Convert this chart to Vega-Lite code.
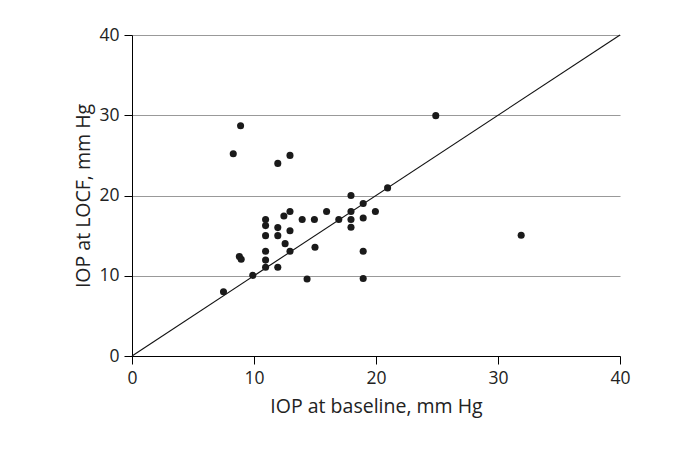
{
  "$schema": "https://vega.github.io/schema/vega-lite/v6.json",
  "width": 488,
  "height": 321,
  "autosize": {"type": "none"},
  "padding": {"left": 132, "top": 35, "right": 72, "bottom": 95},
  "background": "white",
  "config": {
    "view": {"stroke": null},
    "font": "Open Sans",
    "axis": {
      "labelFont": "Open Sans",
      "titleFont": "Open Sans",
      "labelFontSize": 17.5,
      "titleFontSize": 19.5,
      "titleFontWeight": "normal",
      "labelColor": "#222",
      "titleColor": "#222",
      "domainColor": "#000",
      "tickColor": "#000",
      "tickSize": 8,
      "labelPadding": 5,
      "labelFlush": false
    }
  },
  "datasets": {
    "pts": [
      {"baseline": 7.5, "locf": 8.0},
      {"baseline": 8.3, "locf": 25.2},
      {"baseline": 8.9, "locf": 28.7},
      {"baseline": 8.8, "locf": 12.4},
      {"baseline": 8.95, "locf": 12.05},
      {"baseline": 9.9, "locf": 10.05},
      {"baseline": 11.95, "locf": 24.0},
      {"baseline": 12.95, "locf": 25.0},
      {"baseline": 12.95, "locf": 18.0},
      {"baseline": 12.45, "locf": 17.45},
      {"baseline": 10.95, "locf": 17.0},
      {"baseline": 10.95, "locf": 16.25},
      {"baseline": 13.95, "locf": 17.0},
      {"baseline": 14.95, "locf": 17.0},
      {"baseline": 15.95, "locf": 18.0},
      {"baseline": 16.95, "locf": 17.0},
      {"baseline": 11.95, "locf": 16.0},
      {"baseline": 10.95, "locf": 15.0},
      {"baseline": 11.95, "locf": 15.0},
      {"baseline": 12.95, "locf": 15.6},
      {"baseline": 12.55, "locf": 14.0},
      {"baseline": 15.0, "locf": 13.55},
      {"baseline": 10.95, "locf": 13.05},
      {"baseline": 12.95, "locf": 13.05},
      {"baseline": 10.95, "locf": 11.95},
      {"baseline": 10.95, "locf": 11.05},
      {"baseline": 11.95, "locf": 11.05},
      {"baseline": 14.35, "locf": 9.6},
      {"baseline": 20.95, "locf": 20.95},
      {"baseline": 17.95, "locf": 20.0},
      {"baseline": 18.95, "locf": 19.0},
      {"baseline": 17.95, "locf": 18.0},
      {"baseline": 19.95, "locf": 18.0},
      {"baseline": 17.95, "locf": 17.0},
      {"baseline": 18.95, "locf": 17.2},
      {"baseline": 17.95, "locf": 16.05},
      {"baseline": 18.95, "locf": 13.05},
      {"baseline": 18.95, "locf": 9.65},
      {"baseline": 24.9, "locf": 29.95},
      {"baseline": 31.9, "locf": 15.05}
    ],
    "diag": [
      {"baseline": 0, "locf": 0},
      {"baseline": 40, "locf": 40}
    ]
  },
  "layer": [
    {
      "data": {"name": "diag"},
      "mark": {"type": "line", "color": "#111", "strokeWidth": 1.1},
      "encoding": {
        "x": {
          "field": "baseline", "type": "quantitative",
          "scale": {"domain": [0, 40], "nice": false},
          "axis": {"title": "IOP at baseline, mm Hg", "values": [0, 10, 20, 30, 40], "grid": false, "titlePadding": 11}
        },
        "y": {
          "field": "locf", "type": "quantitative",
          "scale": {"domain": [0, 40], "nice": false},
          "axis": {"title": "IOP at LOCF, mm Hg", "values": [0, 10, 20, 30, 40], "grid": true, "gridColor": "#999", "gridWidth": 1.2, "titlePadding": 5}
        }
      }
    },
    {
      "data": {"name": "pts"},
      "mark": {"type": "point", "filled": true, "color": "#1a1a1a", "opacity": 1, "size": 50},
      "encoding": {
        "x": {"field": "baseline", "type": "quantitative"},
        "y": {"field": "locf", "type": "quantitative"}
      }
    }
  ]
}
